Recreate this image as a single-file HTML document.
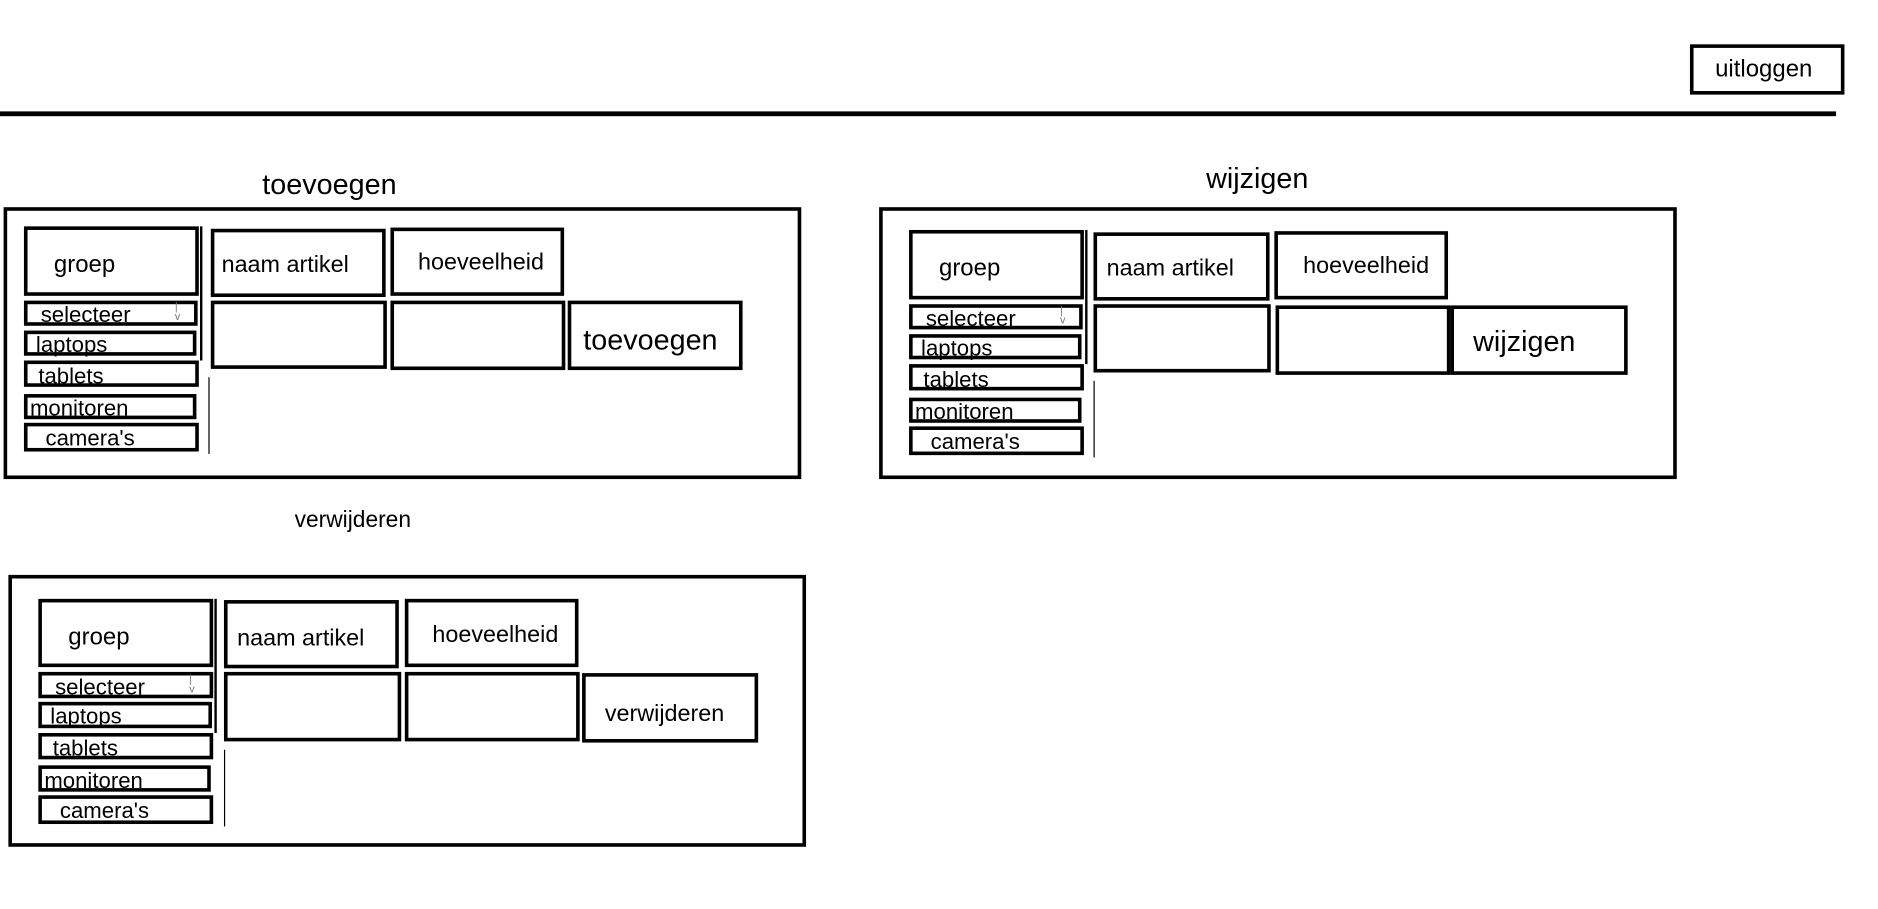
<!DOCTYPE html>
<html><head><meta charset="utf-8"><style>
html,body{margin:0;padding:0;background:#fff;overflow:hidden;width:1878px;height:909px}
#w{position:absolute;left:0;top:0;width:1568px;height:759px;transform:scale(1.1977);transform-origin:0 0;font-family:"Liberation Sans",sans-serif;color:#000}
.a{position:absolute;box-sizing:border-box}
.b{border:3.5px solid #000}
.t{position:absolute;white-space:nowrap}
.p{position:absolute;width:0;height:0}
.l{font-size:18.5px;line-height:16px}
</style></head><body><div id="w">
<div class="a" style="left:0;top:93px;width:1533px;height:4px;background:#000"></div>
<div class="a b" style="left:1411px;top:37px;width:129px;height:42px"></div>
<div class="t" style="left:1432px;top:47px;font-size:20px">uitloggen</div>

<div class="t" style="left:219px;top:141px;font-size:24px">toevoegen</div>
<div class="a b" style="left:3px;top:173px;width:666px;height:227px"></div>
<div class="t" style="left:1007px;top:136px;font-size:24px">wijzigen</div>
<div class="a b" style="left:734px;top:173px;width:666px;height:227px"></div>
<div class="t" style="left:246px;top:424px;font-size:19px">verwijderen</div>
<div class="a b" style="left:7px;top:480px;width:666px;height:227px"></div>

<div class="p" style="left:20px;top:189px">
<div class="a b" style="left:0;top:0;width:146px;height:58px"></div><div class="t" style="left:25px;top:21px;font-size:20px">groep</div>
<div class="a" style="left:147px;top:0;width:2px;height:112px;background:#000"></div>
<div class="a b" style="left:156px;top:2px;width:146px;height:57px"></div><div class="t" style="left:165px;top:21px;font-size:19.5px">naam artikel</div>
<div class="a b" style="left:306px;top:1px;width:145px;height:57px"></div><div class="t" style="left:329px;top:19px;font-size:19.5px">hoeveelheid</div>
<div class="a b" style="left:0;top:62px;width:145px;height:21px"></div><div class="t l" style="left:14px;top:66px">selecteer</div><div class="t" style="left:126px;top:63px;font-size:9px;color:#777;line-height:8px">|<br>v</div>
<div class="a b" style="left:0;top:87px;width:144px;height:21px"></div><div class="t l" style="left:10px;top:91px">laptops</div>
<div class="a b" style="left:0;top:112px;width:146px;height:22px"></div><div class="t l" style="left:12px;top:117px">tablets</div>
<div class="a b" style="left:0;top:140px;width:144px;height:21px"></div><div class="t l" style="left:5px;top:144px">monitoren</div>
<div class="a b" style="left:0;top:164px;width:146px;height:24px"></div><div class="t l" style="left:18px;top:169px">camera's</div>
<div class="a" style="left:154px;top:126px;width:1px;height:64px;background:#000"></div>
<div class="a b" style="left:156px;top:62px;width:147px;height:57px"></div>
<div class="a b" style="left:306px;top:62px;width:146px;height:58px"></div>
<div class="a b" style="left:454px;top:62px;width:146px;height:58px"></div>
<div class="t" style="left:467px;top:82px;font-size:24px">toevoegen</div>
</div>

<div class="p" style="left:759px;top:192px">
<div class="a b" style="left:0;top:0;width:146px;height:58px"></div><div class="t" style="left:25px;top:21px;font-size:20px">groep</div>
<div class="a" style="left:147px;top:0;width:2px;height:112px;background:#000"></div>
<div class="a b" style="left:154px;top:2px;width:147px;height:57px"></div><div class="t" style="left:165px;top:21px;font-size:19.5px">naam artikel</div>
<div class="a b" style="left:305px;top:1px;width:145px;height:57px"></div><div class="t" style="left:329px;top:19px;font-size:19.5px">hoeveelheid</div>
<div class="a b" style="left:0;top:62px;width:145px;height:21px"></div><div class="t l" style="left:14px;top:66px">selecteer</div><div class="t" style="left:126px;top:63px;font-size:9px;color:#777;line-height:8px">|<br>v</div>
<div class="a b" style="left:0;top:87px;width:144px;height:21px"></div><div class="t l" style="left:10px;top:91px">laptops</div>
<div class="a b" style="left:0;top:112px;width:146px;height:22px"></div><div class="t l" style="left:12px;top:117px">tablets</div>
<div class="a b" style="left:0;top:140px;width:144px;height:21px"></div><div class="t l" style="left:5px;top:144px">monitoren</div>
<div class="a b" style="left:0;top:164px;width:146px;height:24px"></div><div class="t l" style="left:18px;top:169px">camera's</div>
<div class="a" style="left:154px;top:126px;width:1px;height:64px;background:#000"></div>
<div class="a b" style="left:154px;top:62px;width:148px;height:57px"></div>
<div class="a b" style="left:306px;top:63px;width:146px;height:58px"></div>
<div class="a b" style="left:452px;top:63px;width:148px;height:58px"></div>
<div class="t" style="left:471px;top:80px;font-size:24px">wijzigen</div>
</div>

<div class="p" style="left:32px;top:500px">
<div class="a b" style="left:0;top:0;width:146px;height:57px"></div><div class="t" style="left:25px;top:21px;font-size:20px">groep</div>
<div class="a" style="left:147px;top:0;width:2px;height:112px;background:#000"></div>
<div class="a b" style="left:155px;top:1px;width:146px;height:57px"></div><div class="t" style="left:166px;top:22px;font-size:19.5px">naam artikel</div>
<div class="a b" style="left:306px;top:0;width:145px;height:57px"></div><div class="t" style="left:329px;top:19px;font-size:19.5px">hoeveelheid</div>
<div class="a b" style="left:0;top:61px;width:146px;height:22px"></div><div class="t l" style="left:14px;top:66px">selecteer</div><div class="t" style="left:126px;top:63px;font-size:9px;color:#777;line-height:8px">|<br>v</div>
<div class="a b" style="left:0;top:86px;width:145px;height:22px"></div><div class="t l" style="left:10px;top:90px">laptops</div>
<div class="a b" style="left:0;top:112px;width:146px;height:22px"></div><div class="t l" style="left:12px;top:117px">tablets</div>
<div class="a b" style="left:0;top:139px;width:144px;height:22px"></div><div class="t l" style="left:5px;top:144px">monitoren</div>
<div class="a b" style="left:0;top:164px;width:146px;height:24px"></div><div class="t l" style="left:18px;top:169px">camera's</div>
<div class="a" style="left:155px;top:126px;width:1px;height:64px;background:#000"></div>
<div class="a b" style="left:155px;top:61px;width:148px;height:58px"></div>
<div class="a b" style="left:306px;top:61px;width:146px;height:58px"></div>
<div class="a b" style="left:454px;top:62px;width:147px;height:58px"></div>
<div class="t" style="left:473px;top:85px;font-size:19.5px">verwijderen</div>
</div>
</div></body></html>
